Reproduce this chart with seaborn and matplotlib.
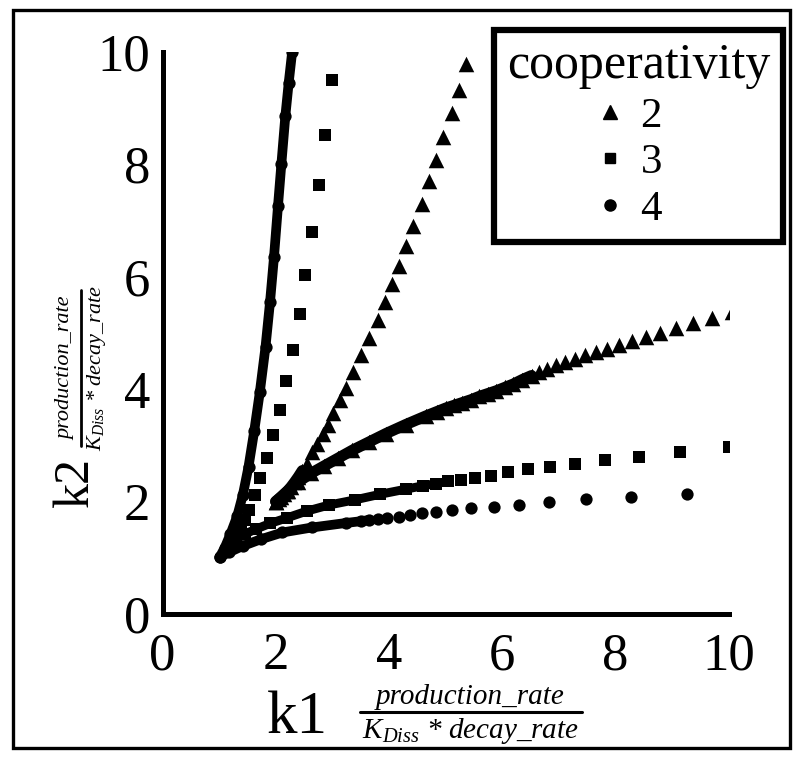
import numpy as np
import pandas as pd
import matplotlib
matplotlib.use("Agg")
import matplotlib.pyplot as plt
import seaborn as sns
from matplotlib.lines import Line2D
from matplotlib.patches import Rectangle

# fold boundaries, each branch ordered from the cusp outwards
# cooperativity 2
n2_low_k1 = [2.00, 2.20, 2.40, 2.62, 2.85, 3.10, 3.35, 3.65, 3.95, 4.30, 4.65, 4.85, 5.00, 5.15,
             5.30, 5.45, 5.60, 5.75, 5.90, 6.05, 6.20, 6.36, 6.52,
             6.66, 6.80, 6.95, 7.11, 7.28, 7.46, 7.66, 7.86, 8.07, 8.29, 8.54, 8.79, 9.07, 9.38, 9.70, 10.06]
n2_low_k2 = [2.00, 2.18, 2.35, 2.50, 2.63, 2.77, 2.91, 3.06, 3.21, 3.37, 3.52, 3.60, 3.66, 3.71,
             3.76, 3.81, 3.87, 3.92, 3.97, 4.03, 4.09, 4.17, 4.24,
             4.30, 4.36, 4.42, 4.48, 4.53, 4.60, 4.66, 4.72, 4.78, 4.85, 4.92, 5.00, 5.08, 5.17, 5.27, 5.37]
n2_up_k1 = [2.00, 2.05, 2.10, 2.15, 2.21, 2.27, 2.33, 2.40, 2.47,
            2.55, 2.64, 2.73, 2.83, 2.93, 3.02, 3.14, 3.25, 3.37, 3.51, 3.64, 3.80, 3.93,
            4.05, 4.18, 4.31, 4.43, 4.58, 4.71, 4.84, 4.96, 5.11, 5.24, 5.37]
n2_up_k2 = [2.00, 2.04, 2.08, 2.13, 2.19, 2.26, 2.34, 2.44, 2.55,
            2.67, 2.88, 3.02, 3.20, 3.37, 3.57, 3.80, 4.02, 4.31, 4.61, 4.91, 5.23, 5.54,
            5.86, 6.18, 6.55, 6.90, 7.29, 7.70, 8.08, 8.49, 8.91, 9.32, 9.79]

# cooperativity 3
n3_low_k1 = [1.19, 1.30, 1.45, 1.65, 1.90, 2.20, 2.55, 2.95, 3.40, 3.85, 4.30, 4.60, 4.84,
             5.05, 5.27, 5.52, 5.80, 6.11, 6.46, 6.85, 7.29, 7.82, 8.42, 9.14, 10.00]
n3_low_k2 = [1.19, 1.33, 1.42, 1.51, 1.61, 1.71, 1.83, 1.94, 2.03, 2.13, 2.22, 2.28, 2.32,
             2.36, 2.38, 2.42, 2.46, 2.52, 2.57, 2.61, 2.67, 2.73, 2.80, 2.88, 2.97]
n3_up_k1 = [1.19, 1.25, 1.32, 1.39, 1.46,
            1.53, 1.64, 1.73, 1.85, 1.96, 2.08, 2.18, 2.30, 2.43, 2.52, 2.64, 2.77, 2.87, 2.99]
n3_up_k2 = [1.19, 1.30, 1.42, 1.55, 1.67,
            1.85, 2.11, 2.42, 2.78, 3.19, 3.62, 4.15, 4.70, 5.33, 6.02, 6.80, 7.63, 8.51, 9.50]

# cooperativity 4
n4_low_k1 = [1.01, 1.18, 1.42, 1.74, 2.12, 2.65, 3.25, 3.50, 3.64,
             3.80, 3.97, 4.17, 4.37, 4.58, 4.83, 5.11, 5.45, 5.86, 6.30, 6.83, 7.48, 8.27, 9.27]
n4_low_k2 = [1.01, 1.10, 1.21, 1.33, 1.45, 1.54, 1.62, 1.65, 1.67,
             1.69, 1.71, 1.73, 1.76, 1.79, 1.82, 1.85, 1.88, 1.91, 1.94, 1.99, 2.04, 2.08, 2.14]
n4_up_k1 = [1.01, 1.10, 1.20, 1.32, 1.42, 1.52, 1.62, 1.72, 1.82, 1.90, 1.97, 2.04, 2.10, 2.17, 2.23, 2.29]
n4_up_k2 = [1.01, 1.18, 1.42, 1.74, 2.12, 2.62, 3.25, 3.95, 4.75, 5.55, 6.35, 7.25, 8.00, 8.85, 9.45, 9.99]

branches = [
    ("2", n2_low_k1, n2_low_k2), ("2", n2_up_k1, n2_up_k2),
    ("3", n3_low_k1, n3_low_k2), ("3", n3_up_k1, n3_up_k2),
    ("4", n4_low_k1, n4_low_k2), ("4", n4_up_k1, n4_up_k2),
]
# how many leading points of each branch sit so close together that they merge into a band
dense = [23, 9, 13, 5, 9, 16]

markers = {"2": "^", "3": "s", "4": "o"}
msize = {"2": 125, "3": 78, "4": 78}
band = {"2": 8.0, "3": 6.4, "4": 7.0}

sns.set_style("white")
plt.rcParams["font.family"] = ["Liberation Serif", "DejaVu Serif"]
plt.rcParams["mathtext.fontset"] = "custom"
plt.rcParams["mathtext.it"] = "Liberation Serif:italic"
plt.rcParams["mathtext.rm"] = "Liberation Serif"
for key in ["text.color", "axes.labelcolor", "xtick.color", "ytick.color", "axes.edgecolor"]:
    plt.rcParams[key] = "black"

W, H = 800, 761
fig = plt.figure(figsize=(W / 100, H / 100), dpi=100)
ax = fig.add_axes([162.5 / W, 1 - 614 / H, 566 / W, 562.3 / H])

for (n, k1, k2), nd in zip(branches, dense):
    df = pd.DataFrame({"k1": k1, "k2": k2})
    sns.lineplot(data=df.iloc[:nd], x="k1", y="k2", sort=False, estimator=None,
                 color="black", linewidth=band[n], solid_capstyle="round", ax=ax)
    sns.scatterplot(data=df, x="k1", y="k2", marker=markers[n], s=msize[n],
                    color="black", edgecolor="black", linewidth=0, ax=ax)

ax.set_xlim(0, 10)
ax.set_ylim(0, 10)
ax.set_xticks([0, 2, 4, 6, 8, 10])
ax.set_yticks([0, 2, 4, 6, 8, 10])
ax.set_xlabel("")
ax.set_ylabel("")
for s in ["top", "right"]:
    ax.spines[s].set_visible(False)
for s in ["left", "bottom"]:
    ax.spines[s].set_linewidth(3.6)
    ax.spines[s].set_color("black")
ax.tick_params(direction="in", length=9, width=3.2, labelsize=38, colors="black")
ax.tick_params(axis="x", pad=13)
ax.tick_params(axis="y", pad=9)

handles = [Line2D([], [], marker=markers[n], color="black", linestyle="None", markersize=ms)
           for n, ms in zip(["2", "3", "4"], [9.5, 7.5, 8])]
# trailing blanks nudge the marker/number column left of the title centre, as in the source
leg = ax.legend(handles, ["2  ", "3  ", "4  "], title="cooperativity", loc="upper right",
                bbox_to_anchor=(783 / W, 1 - 30 / H), bbox_transform=fig.transFigure,
                fontsize=31, title_fontsize=36, frameon=True, fancybox=False, framealpha=1,
                edgecolor="black", labelspacing=0.17, handletextpad=0.3, handlelength=0.8,
                borderpad=0.3, borderaxespad=0)
leg.get_frame().set_linewidth(4.5)

# axis titles: k-name plus the ratio it stands for
fig.text(297 / W, 1 - 718 / H, "k1", fontsize=44, ha="center", va="center")
fig.text(470 / W, 1 - 697 / H, "production_rate", fontsize=21, style="italic", ha="center", va="center")
fig.text(470 / W, 1 - 731 / H, "K$_{Diss}$ * decay_rate", fontsize=21, style="italic", ha="center", va="center")
fig.add_artist(Line2D([360 / W, 582 / W], [1 - 712 / H, 1 - 712 / H], color="black", lw=2.2,
                      transform=fig.transFigure))

fig.text(76 / W, 1 - 482 / H, "k2", fontsize=36, rotation=90, ha="center", va="center")
fig.text(66 / W, 1 - 368 / H, "production_rate", fontsize=16, style="italic", rotation=90,
         ha="center", va="center")
fig.text(96 / W, 1 - 368 / H, "K$_{Diss}$ * decay_rate", fontsize=16, style="italic", rotation=90,
         ha="center", va="center")
fig.add_artist(Line2D([81 / W, 81 / W], [1 - 290 / H, 1 - 446 / H], color="black", lw=2.0,
                      transform=fig.transFigure))

# scanned-page border
fig.add_artist(Rectangle((13 / W, 1 - 748 / H), 777 / W, 738 / H, transform=fig.transFigure,
                         fill=False, edgecolor="black", linewidth=2.4))

fig.savefig("out.png", dpi=100)
